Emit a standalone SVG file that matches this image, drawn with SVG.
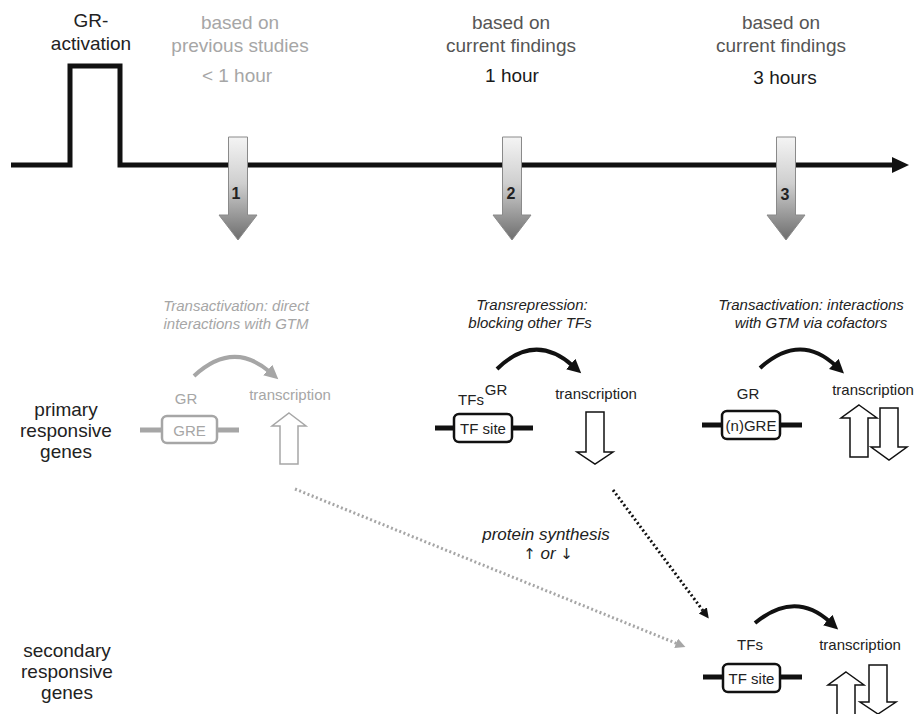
<svg xmlns="http://www.w3.org/2000/svg" width="917" height="714" viewBox="0 0 917 714">
<style>
text{font-family:"Liberation Sans",Arial,sans-serif;text-anchor:middle}
.big{font-size:19px;fill:#222}
.top{font-size:19px}
.it{font-size:15px;font-style:italic;fill:#222}
.sm{font-size:15px;fill:#222}
.num{font-size:16px;font-weight:bold;fill:#222}
.g{fill:#a6a6a6}
.mid{fill:#555}
.hollow{fill:#fff;stroke:#111;stroke-width:1.5;stroke-linejoin:miter}
.hollowg{fill:#fff;stroke:#a6a6a6;stroke-width:1.5}
.dna{stroke:#111;stroke-width:5;fill:none}
.box{fill:#fff;stroke:#111;stroke-width:2.5}
.curve{fill:none;stroke:#111;stroke-width:4}
.arr{font-family:"DejaVu Sans",sans-serif;font-style:normal;font-size:15px}
</style>
<defs>
<linearGradient id="grad" x1="0" y1="0" x2="0" y2="1">
<stop offset="0" stop-color="#f4f4f4"/>
<stop offset="0.45" stop-color="#cfcfcf"/>
<stop offset="1" stop-color="#6e6e6e"/>
</linearGradient>
<path id="bigarrow" d="M-9.5,137 H9.5 V215 H19 L0,240 L-19,215 H-9.5 Z" fill="url(#grad)" stroke="#8a8a8a" stroke-width="1"/>
<marker id="hb" markerUnits="userSpaceOnUse" markerWidth="16" markerHeight="16" refX="3" refY="7" orient="auto">
<path d="M0,0 L14,7 L0,14 Z" fill="#111"/>
</marker>
<marker id="hg" markerUnits="userSpaceOnUse" markerWidth="16" markerHeight="16" refX="3" refY="7" orient="auto">
<path d="M0,0 L14,7 L0,14 Z" fill="#a6a6a6"/>
</marker>
<marker id="db" markerUnits="userSpaceOnUse" markerWidth="12" markerHeight="12" refX="2" refY="5" orient="auto">
<path d="M0,0 L10,5 L0,10 Z" fill="#111"/>
</marker>
<marker id="dg" markerUnits="userSpaceOnUse" markerWidth="12" markerHeight="12" refX="2" refY="5" orient="auto">
<path d="M0,0 L10,5 L0,10 Z" fill="#a6a6a6"/>
</marker>
</defs>

<g id="timeline">
<path d="M11,165 H70 V66 H120 V165 H895" fill="none" stroke="#111" stroke-width="5"/>
<polygon points="892,157 909,165 892,173" fill="#111"/>
<text class="big" x="91" y="27">GR-</text>
<text class="big" x="91" y="50">activation</text>
</g>

<g id="step1">
<text class="top g" x="240" y="29">based on</text>
<text class="top g" x="240" y="52">previous studies</text>
<text class="top g" x="237" y="82">&lt; 1 hour</text>
<use href="#bigarrow" x="238"/>
<text class="num" x="236" y="199">1</text>
</g>
<g id="step2">
<text class="top mid" x="511" y="29">based on</text>
<text class="top mid" x="511" y="52">current findings</text>
<text class="top" fill="#1a1a1a" x="512" y="82">1 hour</text>
<use href="#bigarrow" x="512"/>
<text class="num" x="511" y="199">2</text>
</g>
<g id="step3">
<text class="top mid" x="781" y="29">based on</text>
<text class="top mid" x="781" y="52">current findings</text>
<text class="top" fill="#1a1a1a" x="785" y="84">3 hours</text>
<use href="#bigarrow" x="786"/>
<text class="num" x="785" y="200">3</text>
</g>

<g id="label-primary">
<text class="big" x="66" y="416">primary</text>
<text class="big" x="66" y="437">responsive</text>
<text class="big" x="66" y="458">genes</text>
</g>
<g id="label-secondary">
<text class="big" x="67" y="657">secondary</text>
<text class="big" x="67" y="678">responsive</text>
<text class="big" x="67" y="699">genes</text>
</g>

<g id="primary1">
<text class="it g" x="236" y="311">Transactivation: direct</text>
<text class="it g" x="236" y="329">interactions with GTM</text>
<path d="M194,376 Q233,340 270,372" fill="none" stroke="#a6a6a6" stroke-width="4" marker-end="url(#hg)"/>
<text class="sm g" x="186" y="404">GR</text>
<text class="sm g" x="290" y="400">transcription</text>
<line x1="140" y1="430" x2="239" y2="430" stroke="#a6a6a6" stroke-width="5"/>
<rect x="162" y="416" width="55" height="27" rx="5" fill="#fff" stroke="#a6a6a6" stroke-width="2.5"/>
<text class="sm g" x="189.5" y="436">GRE</text>
<path class="hollowg" d="M289,413 L306,426 H298 V464 H280 V426 H272 Z"/>
</g>

<g id="primary2">
<text class="it" x="532" y="310">Transrepression:</text>
<text class="it" x="530" y="328">blocking other TFs</text>
<path class="curve" d="M497,369 Q535,332 573,366" marker-end="url(#hb)"/>
<text class="sm" x="471" y="405">TFs</text>
<text class="sm" x="496" y="395">GR</text>
<text class="sm" x="596" y="399">transcription</text>
<line class="dna" x1="435" y1="428" x2="533" y2="428"/>
<rect class="box" x="454" y="414" width="58" height="28" rx="5"/>
<text class="sm" x="483" y="434">TF site</text>
<path class="hollow" d="M586,412 H604 V452 H613 L595,464 L577,452 H586 Z"/>
</g>

<g id="primary3">
<text class="it" x="811" y="310">Transactivation: interactions</text>
<text class="it" x="811" y="328">with GTM via cofactors</text>
<path class="curve" d="M760,368 Q800,332 836,366" marker-end="url(#hb)"/>
<text class="sm" x="748" y="399">GR</text>
<text class="sm" x="873" y="395">transcription</text>
<line class="dna" x1="702" y1="425" x2="802" y2="425"/>
<rect class="box" x="722" y="411" width="58" height="28" rx="5"/>
<text class="sm" x="751" y="431">(n)GRE</text>
<path class="hollow" d="M859,405 L877,418 H868 V457 H850 V418 H841 Z"/>
<path class="hollow" d="M880,408 H898 V447 H907 L889,460 L871,447 H880 Z"/>
</g>

<g id="secondary">
<path class="curve" d="M755,623 Q795,590 830,622" marker-end="url(#hb)"/>
<text class="sm" x="750" y="650">TFs</text>
<text class="sm" x="860" y="650">transcription</text>
<line class="dna" x1="703" y1="677" x2="802" y2="677"/>
<rect class="box" x="723" y="664" width="57" height="28" rx="5"/>
<text class="sm" x="751.5" y="684">TF site</text>
<path class="hollow" d="M846,672 L864,685 H855 V716 H837 V685 H828 Z"/>
<path class="hollow" d="M869,665 H887 V702 H896 L878,714 L860,702 H869 Z"/>
</g>

<g id="connectors">
<line x1="613" y1="490" x2="704" y2="612" stroke="#111" stroke-width="3" stroke-dasharray="2 2.5" marker-end="url(#db)"/>
<line x1="295" y1="489" x2="678" y2="644" stroke="#a6a6a6" stroke-width="3" stroke-dasharray="2 2.5" marker-end="url(#dg)"/>
<text x="546" y="540" style="font-size:17px;font-style:italic;fill:#222">protein synthesis</text>
<text x="548" y="559" style="font-size:17px;font-style:italic;fill:#222"><tspan class="arr">↑</tspan> or <tspan class="arr">↓</tspan></text>
</g>
</svg>
